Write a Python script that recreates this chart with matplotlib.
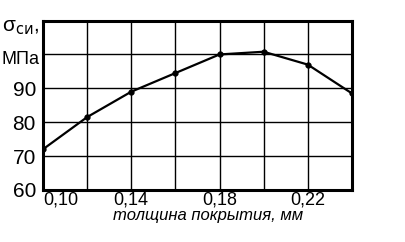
import matplotlib
matplotlib.use('Agg')

import matplotlib.pyplot as plt

# coating thickness, mm and bending strength, MPa
thickness = [0.10, 0.12, 0.14, 0.16, 0.18, 0.20, 0.22, 0.24]
strength = [72, 81.5, 89, 94.5, 100, 100.8, 97, 88.5]

xticks = [0.10, 0.14, 0.18, 0.22]
xtick_labels = ['0,10', '0,14', '0,18', '0,22']
yticks = [60, 70, 80, 90]
ytick_labels = ['60', '70', '80', '90']

plt.rcParams['font.family'] = ['Liberation Sans', 'DejaVu Sans']

fig = plt.figure(figsize=(4.05, 2.42), dpi=100)
ax = fig.add_axes([0.106, 0.215, 0.763, 0.70])

ax.plot(thickness, strength, 'k-', lw=1.6, marker='o', ms=3.5)

ax.set_xlim(0.10, 0.24)
ax.set_ylim(60, 110)

# grid every 0.02 mm and 10 MPa
for x in thickness[1:-1]:
    ax.axvline(x, color='k', lw=1.0, zorder=0)
for y in [70, 80, 90, 100]:
    ax.axhline(y, color='k', lw=1.0, zorder=0)

for s in ax.spines.values():
    s.set_linewidth(2.2)

ax.set_xticks(xticks)
ax.set_xticklabels(xtick_labels, fontsize=13)
ax.get_xticklabels()[0].set_ha('left')
ax.set_yticks(yticks)
ax.set_yticklabels(ytick_labels, fontsize=15)
ax.tick_params(axis='x', length=0, pad=1)
ax.tick_params(axis='y', length=0, pad=5)

ax.text(-0.012, 0.77, 'МПа', fontsize=13, ha='right', va='center',
        transform=ax.transAxes)
ax.text(-0.012, 0.96, 'σ$_{\\mathrm{си}}$,', fontsize=15, ha='right', va='center',
        transform=ax.transAxes)

ax.set_xlabel('толщина покрытия, мм', fontsize=12, style='italic')
ax.xaxis.set_label_coords(0.535, -0.105)

fig.savefig('out.png', dpi=100)
